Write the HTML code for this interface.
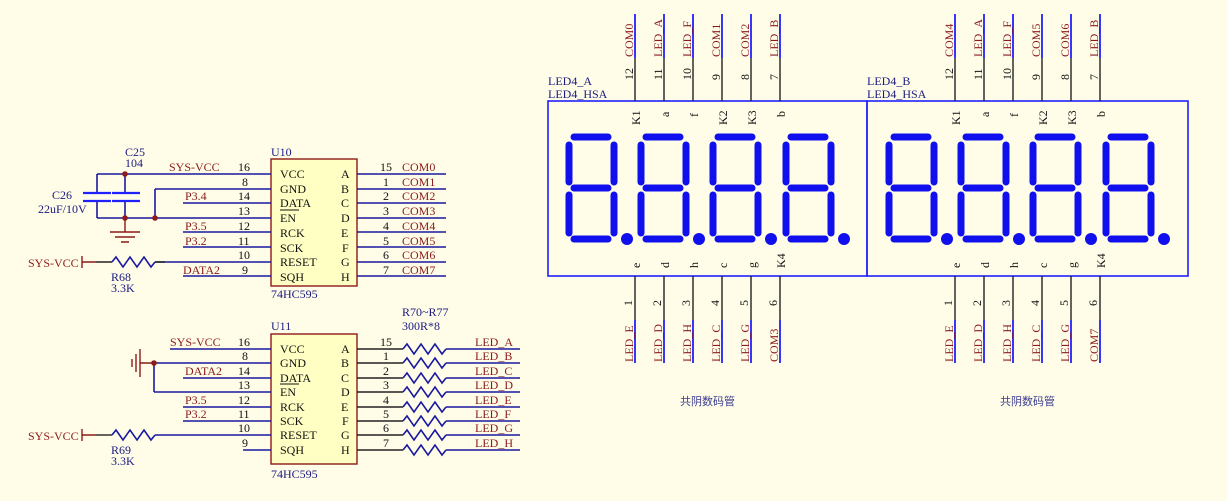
<!DOCTYPE html>
<html><head><meta charset="utf-8"><style>
html,body{margin:0;padding:0;background:#fffde8;}
svg{display:block;}
text{font-family:"Liberation Serif",serif;font-size:12px;}
.r{fill:#8b1a1a}.b{fill:#1a1a80}.k{fill:#111}
.bl{stroke:#1a1aa0;stroke-width:1.6;fill:none}
.bk{stroke:#222;stroke-width:1.4;fill:none}
.rd{stroke:#8b1a1a;stroke-width:1.4;fill:none}
.cn{font-family:"Liberation Sans","Noto Sans CJK SC",sans-serif;font-size:11px;fill:#3a3a90}
</style></head><body>
<svg width="1227" height="501" viewBox="0 0 1227 501" xmlns="http://www.w3.org/2000/svg">
<defs>
<g id="dig" stroke="#1010ee" stroke-width="7" stroke-linecap="round" fill="none">
<line x1="0" y1="0" x2="34" y2="0"/><line x1="-5" y1="8" x2="-5" y2="45"/><line x1="40" y1="8" x2="40" y2="45"/>
<line x1="0" y1="51" x2="34" y2="51"/><line x1="-5" y1="58" x2="-5" y2="96"/><line x1="40" y1="58" x2="40" y2="96"/>
<line x1="0" y1="102" x2="34" y2="102"/><circle cx="53" cy="102" r="6" fill="#1010ee" stroke="none"/>
</g>
<g id="pinsT">
<line x1="0" y1="14" x2="0" y2="58" stroke="#2020ff" stroke-width="1.8"/><line x1="0" y1="58" x2="0" y2="101" stroke="#222" stroke-width="1.4"/>
</g>
<g id="pinsB">
<line x1="0" y1="276" x2="0" y2="320" stroke="#222" stroke-width="1.4"/><line x1="0" y1="320" x2="0" y2="363" stroke="#2020ff" stroke-width="1.8"/>
</g>
<polyline id="zz" points="0,0 4,-5 11,5 18,-5 25,5 32,-5 39,5 43,0" fill="none" stroke="#1a1aa0" stroke-width="1.6"/>
</defs>

<!-- ===== U10 ===== -->
<rect x="271" y="159" width="86" height="127" fill="#ffffc4" stroke="#8b1a1a" stroke-width="1.4"/>
<text x="271" y="156" class="b">U10</text>
<text x="271" y="298" class="b">74HC595</text>
<g class="k">
<text x="280" y="178">VCC</text><text x="280" y="193">GND</text><text x="280" y="207">DATA</text><text x="280" y="222">EN</text>
<text x="280" y="237">RCK</text><text x="280" y="252">SCK</text><text x="280" y="266">RESET</text><text x="280" y="281">SQH</text>
<text x="341" y="178">A</text><text x="341" y="193">B</text><text x="341" y="207">C</text><text x="341" y="222">D</text>
<text x="341" y="237">E</text><text x="342" y="252">F</text><text x="341" y="266">G</text><text x="341" y="281">H</text>
<text x="238" y="171">16</text><text x="242" y="186">8</text><text x="238" y="200">14</text><text x="238" y="215">13</text>
<text x="238" y="230">12</text><text x="238" y="245">11</text><text x="238" y="259">10</text><text x="242" y="274">9</text>
<text x="380" y="171">15</text><text x="383" y="186">1</text><text x="383" y="200">2</text><text x="383" y="215">3</text>
<text x="383" y="230">4</text><text x="383" y="245">5</text><text x="383" y="259">6</text><text x="383" y="274">7</text>
</g>
<line x1="280" y1="210" x2="299" y2="210" stroke="#111" stroke-width="1"/>
<g class="bl">
<path d="M97 174 H271 M155 189 H271 M183 203 H271 M97 218 H271 M183 232 H271 M183 247 H271 M155 262 H271 M183 276 H271"/>
<path d="M97 174 V193 M97 201 V218 M125 174 V193 M125 201 V218 M155 189 V218"/>
<path d="M357 174 H446 M357 189 H446 M357 203 H446 M357 218 H446 M357 232 H446 M357 247 H446 M357 262 H446 M357 276 H446"/>
</g>
<g stroke="#2020ff" stroke-width="2.2"><line x1="83" y1="193" x2="111" y2="193"/><line x1="83" y1="201" x2="111" y2="201"/><line x1="112" y1="193" x2="140" y2="193"/><line x1="112" y1="201" x2="140" y2="201"/></g>
<g fill="#8b1a1a"><circle cx="125" cy="174" r="2.8"/><circle cx="125" cy="218" r="2.8"/><circle cx="155" cy="218" r="2.8"/></g>
<g class="rd"><path d="M125 218 V232 M110 232 H140 M115 237 H135 M121 242 H129"/></g>
<text x="125" y="156" class="b">C25</text><text x="125" y="167" class="b">104</text>
<text x="52" y="199" class="b">C26</text><text x="38" y="213" class="b">22uF/10V</text>
<g class="r"><text x="169" y="171">SYS-VCC</text><text x="185" y="200">P3.4</text><text x="185" y="230">P3.5</text><text x="185" y="245">P3.2</text><text x="183" y="274">DATA2</text>
<text x="402" y="171">COM0</text><text x="402" y="186">COM1</text><text x="402" y="200">COM2</text><text x="402" y="215">COM3</text>
<text x="402" y="230">COM4</text><text x="402" y="245">COM5</text><text x="402" y="259">COM6</text><text x="402" y="274">COM7</text>
<text x="28" y="267">SYS-VCC</text><text x="28" y="440">SYS-VCC</text></g>
<g class="rd"><path d="M82 256 V268 M82 262 H96"/><path d="M82 429 V441 M82 435 H96"/></g>
<path d="M96 262 H112 M155 262 H165" class="bk"/>
<use href="#zz" x="112" y="262"/>
<text x="111" y="281" class="b">R68</text><text x="111" y="292" class="b">3.3K</text>

<!-- ===== U11 ===== -->
<rect x="271" y="334" width="86" height="130" fill="#ffffc4" stroke="#8b1a1a" stroke-width="1.4"/>
<text x="271" y="330" class="b">U11</text>
<text x="271" y="478" class="b">74HC595</text>
<g class="k">
<text x="280" y="353">VCC</text><text x="280" y="367">GND</text><text x="280" y="382">DATA</text><text x="280" y="396">EN</text>
<text x="280" y="411">RCK</text><text x="280" y="425">SCK</text><text x="280" y="439">RESET</text><text x="280" y="454">SQH</text>
<text x="341" y="353">A</text><text x="341" y="367">B</text><text x="341" y="382">C</text><text x="341" y="396">D</text>
<text x="341" y="411">E</text><text x="342" y="425">F</text><text x="341" y="439">G</text><text x="341" y="454">H</text>
<text x="238" y="346">16</text><text x="242" y="360">8</text><text x="238" y="375">14</text><text x="238" y="389">13</text>
<text x="238" y="404">12</text><text x="238" y="418">11</text><text x="238" y="432">10</text><text x="242" y="447">9</text>
<text x="380" y="346">15</text><text x="383" y="360">1</text><text x="383" y="375">2</text><text x="383" y="389">3</text>
<text x="383" y="404">4</text><text x="383" y="418">5</text><text x="383" y="432">6</text><text x="383" y="447">7</text>
</g>
<line x1="280" y1="384" x2="299" y2="384" stroke="#111" stroke-width="1"/>
<g class="bl">
<path d="M170 349 H271 M154 363 H271 M183 378 H271 M154 392 H271 M183 407 H271 M183 421 H271 M155 435 H271 M243 450 H271"/>
<path d="M154 363 V392"/>
<path d="M446 349 H520 M446 363 H520 M446 378 H520 M446 392 H520 M446 407 H520 M446 421 H520 M446 435 H520 M446 450 H520"/>
</g>
<g class="bk"><path d="M357 349 H403 M357 363 H403 M357 378 H403 M357 392 H403 M357 407 H403 M357 421 H403 M357 435 H403 M357 450 H403"/></g>
<use href="#zz" x="403" y="349"/><use href="#zz" x="403" y="363"/><use href="#zz" x="403" y="378"/><use href="#zz" x="403" y="392"/>
<use href="#zz" x="403" y="407"/><use href="#zz" x="403" y="421"/><use href="#zz" x="403" y="435"/><use href="#zz" x="403" y="450"/>
<g class="rd"><path d="M140 363 H154 M140 349 V377 M136 354 V372 M132 359 V367"/></g>
<circle cx="154" cy="363" r="2.8" fill="#8b1a1a"/>
<path d="M96 435 H112" class="bk"/>
<use href="#zz" x="112" y="435"/>
<text x="111" y="454" class="b">R69</text><text x="111" y="465" class="b">3.3K</text>
<text x="402" y="316" class="b">R70~R77</text><text x="402" y="330" class="b">300R*8</text>
<g class="r"><text x="170" y="346">SYS-VCC</text><text x="185" y="375">DATA2</text><text x="185" y="404">P3.5</text><text x="185" y="418">P3.2</text>
<text x="475" y="346">LED_A</text><text x="475" y="360">LED_B</text><text x="475" y="375">LED_C</text><text x="475" y="389">LED_D</text>
<text x="475" y="404">LED_E</text><text x="475" y="418">LED_F</text><text x="475" y="432">LED_G</text><text x="475" y="447">LED_H</text></g>

<!-- ===== Displays ===== -->
<rect x="548" y="101" width="319" height="175" fill="none" stroke="#2020ff" stroke-width="1.6"/>
<rect x="867" y="101" width="321" height="175" fill="none" stroke="#2020ff" stroke-width="1.6"/>
<text x="548" y="85" class="b">LED4_A</text><text x="548" y="98" class="b">LED4_HSA</text>
<text x="867" y="85" class="b">LED4_B</text><text x="867" y="98" class="b">LED4_HSA</text>
<use href="#dig" x="574" y="137"/><use href="#dig" x="646" y="137"/><use href="#dig" x="718" y="137"/><use href="#dig" x="791" y="137"/>
<use href="#dig" x="894" y="137"/><use href="#dig" x="966" y="137"/><use href="#dig" x="1038" y="137"/><use href="#dig" x="1111" y="137"/>
<g>
<use href="#pinsT" x="635"/><use href="#pinsT" x="664"/><use href="#pinsT" x="693"/><use href="#pinsT" x="722"/><use href="#pinsT" x="751"/><use href="#pinsT" x="780"/>
<use href="#pinsB" x="635"/><use href="#pinsB" x="664"/><use href="#pinsB" x="693"/><use href="#pinsB" x="722"/><use href="#pinsB" x="751"/><use href="#pinsB" x="780"/>
<use href="#pinsT" x="955"/><use href="#pinsT" x="984"/><use href="#pinsT" x="1013"/><use href="#pinsT" x="1042"/><use href="#pinsT" x="1071"/><use href="#pinsT" x="1100"/>
<use href="#pinsB" x="955"/><use href="#pinsB" x="984"/><use href="#pinsB" x="1013"/><use href="#pinsB" x="1042"/><use href="#pinsB" x="1071"/><use href="#pinsB" x="1100"/>
</g>
<g class="k">
<text transform="translate(633,80) rotate(-90)">12</text><text transform="translate(662,80) rotate(-90)">11</text><text transform="translate(691,80) rotate(-90)">10</text>
<text transform="translate(720,80) rotate(-90)">9</text><text transform="translate(749,80) rotate(-90)">8</text><text transform="translate(778,80) rotate(-90)">7</text>
<text transform="translate(640,125) rotate(-90)">K1</text><text transform="translate(669,117) rotate(-90)">a</text><text transform="translate(698,117) rotate(-90)">f</text>
<text transform="translate(727,125) rotate(-90)">K2</text><text transform="translate(756,125) rotate(-90)">K3</text><text transform="translate(785,117) rotate(-90)">b</text>
<text transform="translate(640,268) rotate(-90)">e</text><text transform="translate(669,268) rotate(-90)">d</text><text transform="translate(698,268) rotate(-90)">h</text>
<text transform="translate(727,268) rotate(-90)">c</text><text transform="translate(756,268) rotate(-90)">g</text><text transform="translate(785,268) rotate(-90)">K4</text>
<text transform="translate(632,306) rotate(-90)">1</text><text transform="translate(661,306) rotate(-90)">2</text><text transform="translate(690,306) rotate(-90)">3</text>
<text transform="translate(719,306) rotate(-90)">4</text><text transform="translate(748,306) rotate(-90)">5</text><text transform="translate(777,306) rotate(-90)">6</text>

<text transform="translate(953,80) rotate(-90)">12</text><text transform="translate(982,80) rotate(-90)">11</text><text transform="translate(1011,80) rotate(-90)">10</text>
<text transform="translate(1040,80) rotate(-90)">9</text><text transform="translate(1069,80) rotate(-90)">8</text><text transform="translate(1098,80) rotate(-90)">7</text>
<text transform="translate(960,125) rotate(-90)">K1</text><text transform="translate(989,117) rotate(-90)">a</text><text transform="translate(1018,117) rotate(-90)">f</text>
<text transform="translate(1047,125) rotate(-90)">K2</text><text transform="translate(1076,125) rotate(-90)">K3</text><text transform="translate(1105,117) rotate(-90)">b</text>
<text transform="translate(960,268) rotate(-90)">e</text><text transform="translate(989,268) rotate(-90)">d</text><text transform="translate(1018,268) rotate(-90)">h</text>
<text transform="translate(1047,268) rotate(-90)">c</text><text transform="translate(1076,268) rotate(-90)">g</text><text transform="translate(1105,268) rotate(-90)">K4</text>
<text transform="translate(952,306) rotate(-90)">1</text><text transform="translate(981,306) rotate(-90)">2</text><text transform="translate(1010,306) rotate(-90)">3</text>
<text transform="translate(1039,306) rotate(-90)">4</text><text transform="translate(1068,306) rotate(-90)">5</text><text transform="translate(1097,306) rotate(-90)">6</text>
</g>
<g class="r">
<text transform="translate(633,57) rotate(-90)">COM0</text><text transform="translate(662,57) rotate(-90)">LED_A</text><text transform="translate(691,57) rotate(-90)">LED_F</text>
<text transform="translate(720,57) rotate(-90)">COM1</text><text transform="translate(749,57) rotate(-90)">COM2</text><text transform="translate(778,57) rotate(-90)">LED_B</text>
<text transform="translate(633,362) rotate(-90)">LED_E</text><text transform="translate(662,362) rotate(-90)">LED_D</text><text transform="translate(691,362) rotate(-90)">LED_H</text>
<text transform="translate(720,362) rotate(-90)">LED_C</text><text transform="translate(749,362) rotate(-90)">LED_G</text><text transform="translate(778,362) rotate(-90)">COM3</text>

<text transform="translate(953,57) rotate(-90)">COM4</text><text transform="translate(982,57) rotate(-90)">LED_A</text><text transform="translate(1011,57) rotate(-90)">LED_F</text>
<text transform="translate(1040,57) rotate(-90)">COM5</text><text transform="translate(1069,57) rotate(-90)">COM6</text><text transform="translate(1098,57) rotate(-90)">LED_B</text>
<text transform="translate(953,362) rotate(-90)">LED_E</text><text transform="translate(982,362) rotate(-90)">LED_D</text><text transform="translate(1011,362) rotate(-90)">LED_H</text>
<text transform="translate(1040,362) rotate(-90)">LED_C</text><text transform="translate(1069,362) rotate(-90)">LED_G</text><text transform="translate(1098,362) rotate(-90)">COM7</text>
</g>
<text x="680" y="405" class="cn">共阴数码管</text>
<text x="1000" y="405" class="cn">共阴数码管</text>
</svg>
</body></html>
